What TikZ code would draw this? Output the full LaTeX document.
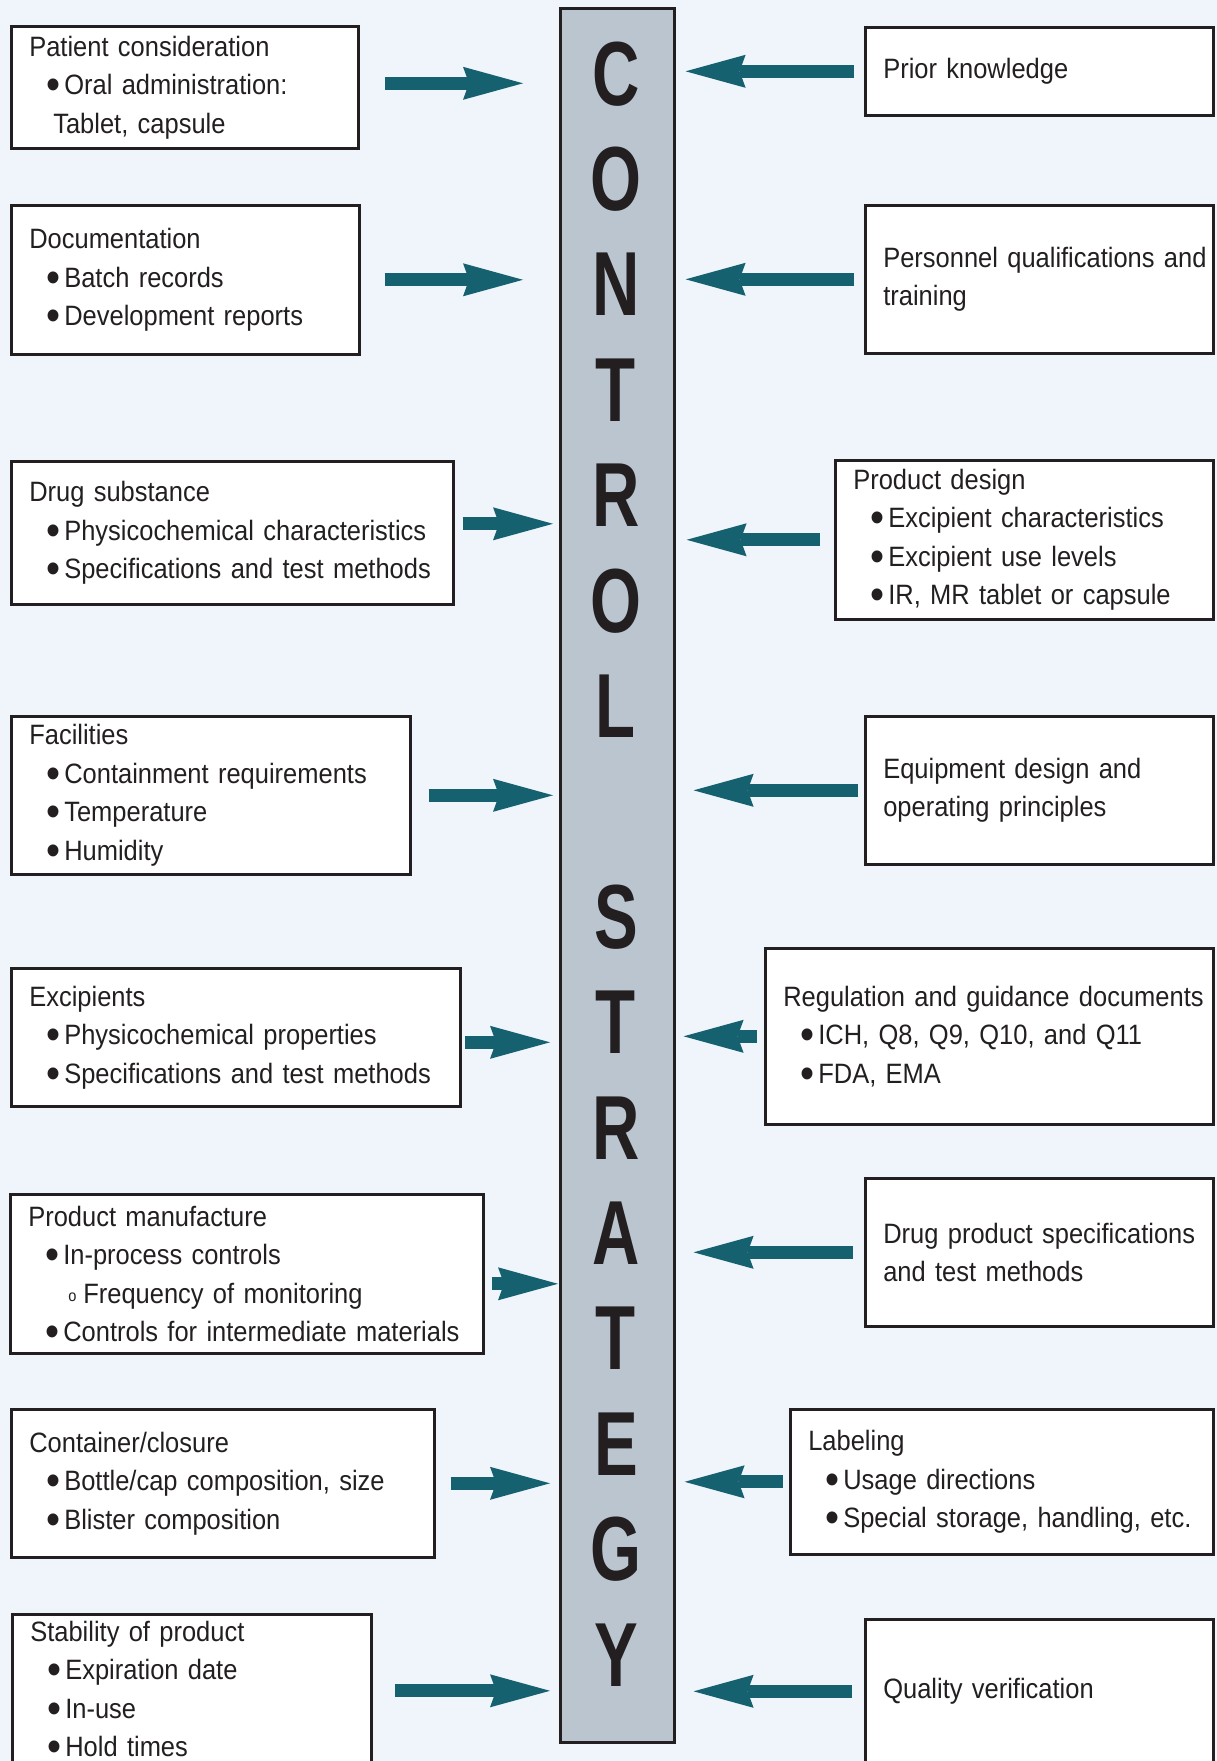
\documentclass[tikz,border=0pt]{standalone}
\usepackage{fontspec}
\setmainfont{Liberation Sans}[FakeStretch=0.91]
\newfontfamily\titlefont{Liberation Sans}[FakeStretch=0.72]
\usepackage{xcolor}
\usetikzlibrary{arrows.meta,calc}

\definecolor{paper}{RGB}{239,245,250}
\definecolor{barfill}{RGB}{186,197,207}
\definecolor{ink}{RGB}{35,31,32}
\definecolor{arrowteal}{RGB}{22,97,111}

\hyphenpenalty=10000
\exhyphenpenalty=10000
\newcommand{\bul}{\hspace*{17pt}\makebox[18pt][l]{\smash{\fontsize{44}{0}\selectfont\raisebox{-5pt}{•}}}}
\newcommand{\subbul}{\hspace*{40pt}\makebox[15pt][l]{\fontsize{16}{0}\selectfont\raisebox{2pt}{o}}}

\begin{document}
\begin{tikzpicture}[x=1pt,y=-1pt,line join=miter,
  box/.style={draw=ink,fill=white,line width=2.6pt,anchor=north west,align=left,
    inner xsep=18pt,inner ysep=0pt,text=ink,font=\fontsize{28}{38.5}\selectfont},
  flow/.style={line width=13pt,draw=arrowteal,
    -{Stealth[length=60pt,width=33pt,inset=6pt,line width=0pt]}},
  letter/.style={anchor=base,inner sep=0pt,text=ink,
    font=\titlefont\bfseries\fontsize{91}{91}\selectfont}]
  \useasboundingbox (0,0) rectangle (1217,1761);
  \clip (0,0) rectangle (1217,1761);
  \fill[paper] (0,0) rectangle (1217,1761);

  \node[draw=ink,fill=barfill,line width=2.6pt,anchor=north west,inner sep=0pt,
    minimum width=114pt,minimum height=1734pt] (bar) at (559,7) {};
  \foreach \ch/\k in {C/0,O/1,N/2,T/3,R/4,O/5,L/6,S/8,T/9,R/10,A/11,T/12,E/13,G/14,Y/15}
    \node[letter] (ltr\k) at (616,{105+105.4*\k}) {\ch};

  \node[box,minimum width=347pt,minimum height=122pt,text width=311pt] (patient) at (10,25)
    {Patient consideration\\\bul Oral administration:\\\hspace*{24pt}Tablet, capsule};
  \node[box,minimum width=348pt,minimum height=149pt,text width=312pt] (docs) at (10,204)
    {Documentation\\\bul Batch records\\\bul Development reports};
  \node[box,minimum width=442pt,minimum height=143pt,text width=406pt] (drugsub) at (10,460)
    {Drug substance\\\bul Physicochemical~characteristics\\\bul Specifications~and~test~methods};
  \node[box,minimum width=399pt,minimum height=158pt,text width=363pt] (facil) at (10,715)
    {Facilities\\\bul Containment~requirements\\\bul Temperature\\\bul Humidity};
  \node[box,minimum width=449pt,minimum height=138pt,text width=413pt] (excip) at (10,967)
    {Excipients\\\bul Physicochemical~properties\\\bul Specifications~and~test~methods};
  \node[box,minimum width=473pt,minimum height=159pt,text width=437pt] (prodman) at (9,1193)
    {Product manufacture\\\bul In-process controls\\\subbul Frequency~of~monitoring\\\bul Controls~for~intermediate~materials};
  \node[box,minimum width=423pt,minimum height=148pt,text width=387pt] (contain) at (10,1408)
    {Container/closure\\\bul Bottle/cap~composition,~size\\\bul Blister composition};
  \node[box,minimum width=359pt,minimum height=149pt,text width=323pt] (stabil) at (11,1613)
    {Stability of product\\\bul Expiration date\\\bul In-use\\\bul Hold times};

  \node[box,minimum width=348pt,minimum height=88pt,text width=312pt] (prior) at (864,26)
    {Prior knowledge};
  \node[box,minimum width=348pt,minimum height=148pt,text width=312pt] (personnel) at (864,204)
    {Personnel~qualifications~and\\training};
  \node[box,minimum width=378pt,minimum height=159pt,text width=342pt] (proddesign) at (834,459)
    {Product design\\\bul Excipient~characteristics\\\bul Excipient use levels\\\bul IR,~MR~tablet~or~capsule};
  \node[box,minimum width=348pt,minimum height=148pt,text width=312pt] (equip) at (864,715)
    {Equipment design and\\operating principles};
  \node[box,minimum width=448pt,minimum height=176pt,text width=412pt] (regul) at (764,947)
    {Regulation~and~guidance~documents\\\bul ICH,~Q8,~Q9,~Q10,~and~Q11\\\bul FDA, EMA};
  \node[box,minimum width=348pt,minimum height=148pt,text width=312pt] (drugprod) at (864,1177)
    {Drug~product~specifications\\and test methods};
  \node[box,minimum width=423pt,minimum height=145pt,text width=387pt] (label) at (789,1408)
    {Labeling\\\bul Usage directions\\\bul Special~storage,~handling,~etc.};
  \node[box,minimum width=348pt,minimum height=144pt,text width=312pt] (quality) at (864,1618)
    {Quality verification};

  \draw[flow] ($(patient.east)+(25,-4)$) -- ($(patient.east -| bar.west)+(-36,-4)$);
  \draw[flow] ($(docs.east)+(24,0)$) -- ($(docs.east -| bar.west)+(-36,0)$);
  \draw[flow] ($(drugsub.east)+(8,-9)$) -- ($(drugsub.east -| bar.west)+(-6,-9)$);
  \draw[flow] ($(facil.east)+(17,0)$) -- ($(facil.east -| bar.west)+(-6,0)$);
  \draw[flow] ($(excip.east)+(3,5)$) -- ($(excip.east -| bar.west)+(-9,5)$);
  \draw[flow] ($(prodman.east)+(7,10)$) -- ($(prodman.east -| bar.west)+(-1,10)$);
  \draw[flow] ($(contain.east)+(15,0)$) -- ($(contain.east -| bar.west)+(-9,0)$);
  \draw[flow] ($(stabil.east)+(22,2)$) -- ($(stabil.east -| bar.west)+(-9,2)$);

  \draw[flow] ($(prior.west)+(-10,0)$) -- ($(prior.west -| bar.east)+(10,0)$);
  \draw[flow] ($(personnel.west)+(-10,0)$) -- ($(personnel.west -| bar.east)+(10,0)$);
  \draw[flow] ($(proddesign.west)+(-14,0)$) -- ($(proddesign.west -| bar.east)+(11,0)$);
  \draw[flow] ($(equip.west)+(-6,0)$) -- ($(equip.west -| bar.east)+(18,0)$);
  \draw[flow] ($(regul.west)+(-7,0)$) -- ($(regul.west -| bar.east)+(8,0)$);
  \draw[flow] ($(drugprod.west)+(-11,0)$) -- ($(drugprod.west -| bar.east)+(18,0)$);
  \draw[flow] ($(label.west)+(-6,0)$) -- ($(label.west -| bar.east)+(9,0)$);
  \draw[flow] ($(quality.west)+(-12,0)$) -- ($(quality.west -| bar.east)+(18,0)$);
\end{tikzpicture}
\end{document}
